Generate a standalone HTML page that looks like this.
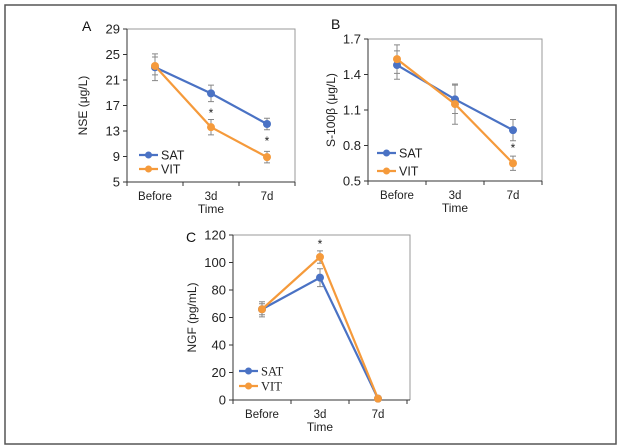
<!DOCTYPE html>
<html><head><meta charset="utf-8">
<style>
body{margin:0;background:#fff;}
svg{display:block;font-family:"Liberation Sans",sans-serif;}
</style></head>
<body>
<svg id="fig" width="621" height="448" viewBox="0 0 621 448" xmlns="http://www.w3.org/2000/svg">
<rect x="5" y="5" width="611" height="439" fill="none" stroke="#555" stroke-width="1.5"/>
</svg>
<script>
const categories = ["Before","3d","7d"];
const seriesNames = ["SAT","VIT"];
const aSat = [23.0, 18.9, 14.1];
const aVit = [23.2, 13.6, 8.9];
const aSatErr = [2.1, 1.3, 0.9];
const aVitErr = [1.4, 1.2, 0.9];
const aTicks = [5, 9, 13, 17, 21, 25, 29];
const bSat = [1.48, 1.19, 0.93];
const bVit = [1.53, 1.15, 0.65];
const bSatErr = [0.12, 0.12, 0.09];
const bVitErr = [0.12, 0.17, 0.06];
const bTicks = ["0.5", "0.8", "1.1", "1.4", "1.7"];
const cSat = [66, 89, 1];
const cVit = [66, 104, 1];
const cSatErr = [5.5, 6.5, 0];
const cVitErr = [4, 4.5, 0];
const cTicks = [0, 20, 40, 60, 80, 100, 120];
const starsA = [false, true, true];
const starsB = [false, false, true];
const starsC = [false, true, false];

const NS = "http://www.w3.org/2000/svg";
const svg = document.getElementById("fig");
const BLUE = "#4a72c4", ORANGE = "#f59a3b";
function mk(tag, attrs, parent){
  const e = document.createElementNS(NS, tag);
  for (const k in attrs) e.setAttribute(k, attrs[k]);
  (parent || svg).appendChild(e);
  return e;
}
function panel(p){
  const g = mk("g", {});
  
  
  const ticks = p.ticks.map(Number);
  const ymin = ticks[0], ymax = ticks[ticks.length-1];
  const yS = v => p.bottom - (v - ymin) / (ymax - ymin) * (p.bottom - p.top);
  const xS = i => p.left + (i + 0.5) * p.band;
  const fr = mk("path", {d:`M${p.left},${p.top}H${p.right}V${p.bottom}`, fill:"none", stroke:"#999", "stroke-width":1}, g);
  
  
  const ax = mk("path", {d:`M${p.left},${p.top}V${p.bottom}H${p.right}`, fill:"none", stroke:"#333", "stroke-width":1}, g);
  
  
  p.ticks.forEach(t => {
    const y = yS(Number(t));
    mk("line", {x1:p.left-4, x2:p.left, y1:y, y2:y, stroke:"#333"}, g);
    const tx = mk("text", {x:p.left-7, y:y+4.5, "text-anchor":"end", "font-size":13, fill:"#222"}, g);
    tx.textContent = t;
    
    
  });
  for (let i = 0; i <= categories.length; i++){
    const x = p.left + i * p.band;
    mk("line", {x1:x, x2:x, y1:p.bottom, y2:p.bottom+4, stroke:"#333"}, g);
  }
  categories.forEach((c, i) => {
    const tx = mk("text", {x:xS(i), y:p.bottom+18, "text-anchor":"middle", "font-size":11.5, fill:"#222"}, g);
    tx.textContent = c;
    
    
  });
  const xt = mk("text", {x:xS(1), y:p.bottom+31, "text-anchor":"middle", "font-size":12, fill:"#222"}, g);
  xt.textContent = "Time";
  
  
  const ycx = p.ytx, ycy = (p.top + p.bottom)/2;
  const yt = mk("text", {x:ycx, y:ycy, "text-anchor":"middle", "font-size":12, fill:"#222", transform:`rotate(-90 ${ycx} ${ycy})`}, g);
  yt.textContent = p.ytitle;
  
  
  const lb = mk("text", {x:p.lx, y:p.ly, "font-size":14, fill:"#111"}, g);
  lb.textContent = p.id;
  
  
  const series = [[p.sat, p.satErr, BLUE], [p.vit, p.vitErr, ORANGE]];
  series.forEach(([vals, errs, col], si) => {
    vals.forEach((v, i) => {
      if (!errs[i]) return;
      const x = xS(i), y1 = yS(v - errs[i]), y2 = yS(v + errs[i]);
      const e = mk("path", {d:`M${x},${y1}V${y2}M${x-3},${y1}H${x+3}M${x-3},${y2}H${x+3}`, stroke:"#888", "stroke-width":1, fill:"none"}, g);
      
      
    });
  });
  series.forEach(([vals, errs, col], si) => {
    const ln = mk("polyline", {points: vals.map((v,i)=>xS(i)+","+yS(v)).join(" "), fill:"none", stroke:col, "stroke-width":2.2}, g);
    
    
    vals.forEach((v, i) => {
      const c = mk("circle", {cx:xS(i), cy:yS(v), r:4, fill:col}, g);
      
      
    });
  });
  p.stars.forEach((s, i) => {
    if (!s) return;
    const st = mk("text", {x:xS(i), y:p.starY[i], "text-anchor":"middle", "font-size":12, fill:"#222"}, g);
    st.textContent = "*";
    
    
  });
  series.forEach(([v, e, col], si) => {
    const y = p.legY[si];
    const ll = mk("line", {x1:p.legX, x2:p.legX+19, y1:y, y2:y, stroke:col, "stroke-width":2.2}, g);
    
    
    mk("circle", {cx:p.legX+9.5, cy:y, r:3.5, fill:col}, g);
    const t = mk("text", {x:p.legX+22, y:y+4.5, "font-size":12.5, fill:"#222", "font-family":p.legFont}, g);
    t.textContent = seriesNames[si];
    
    
  });
}
panel({id:"A", left:127, right:295, top:29, bottom:182, band:56, ticks:aTicks, sat:aSat, vit:aVit, satErr:aSatErr, vitErr:aVitErr,
  ytitle:"NSE (\u03bcg/L)", ytx:87, lx:82, ly:31, stars:starsA, starY:[0,117,145], legX:139, legY:[155,169], legFont:"Liberation Sans"});
panel({id:"B", left:368, right:542, top:39, bottom:181, band:58, ticks:bTicks, sat:bSat, vit:bVit, satErr:bSatErr, vitErr:bVitErr,
  ytitle:"S-100\u03b2 (\u03bcg/L)", ytx:335, lx:331, ly:29, stars:starsB, starY:[0,0,152], legX:377, legY:[153,171], legFont:"Liberation Sans"});
panel({id:"C", left:233, right:410, top:235, bottom:400, band:58, ticks:cTicks, sat:cSat, vit:cVit, satErr:cSatErr, vitErr:cVitErr,
  ytitle:"NGF (pg/mL)", ytx:196, lx:186, ly:242, stars:starsC, starY:[0,248,0], legX:239, legY:[371,386], legFont:"Liberation Serif"});
</script>
</body></html>
